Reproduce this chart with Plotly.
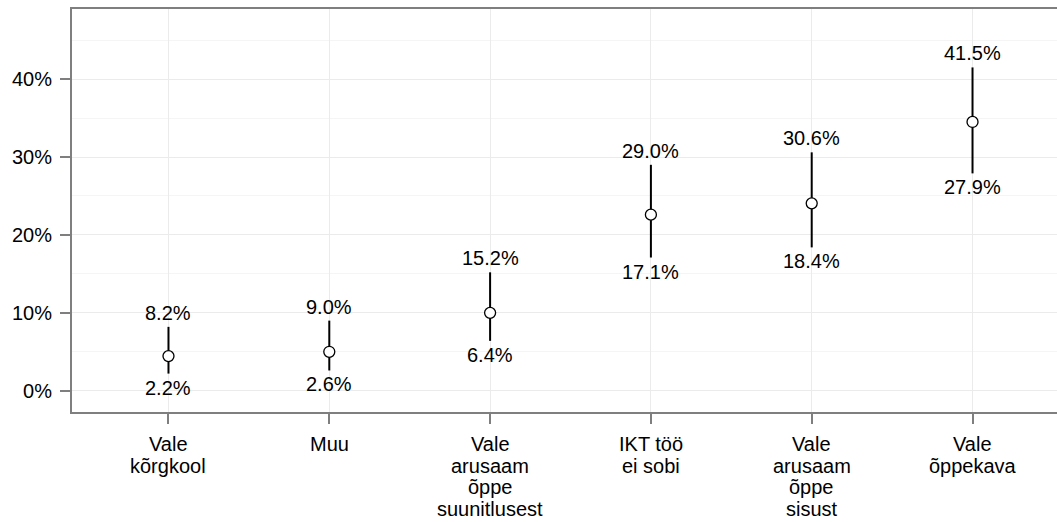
import plotly.graph_objects as go

categories = ["Vale<br>kõrgkool", "Muu", "Vale<br>arusaam<br>õppe<br>suunitlusest",
              "IKT töö<br>ei sobi", "Vale<br>arusaam<br>õppe<br>sisust", "Vale<br>õppekava"]
estimate = [4.45, 5.0, 10.0, 22.6, 24.05, 34.5]
lower = [2.2, 2.6, 6.4, 17.1, 18.4, 27.9]
upper = [8.2, 9.0, 15.2, 29.0, 30.6, 41.5]
y_ticks = [0, 10, 20, 30, 40]

xi = list(range(len(categories)))
FONT = "Liberation Sans, Arial, sans-serif"
FS = 20
GRID = "#ebebeb"
FRAME = "#7f7f7f"

fig = go.Figure()

# interval lines
lx, ly = [], []
for i, lo, hi in zip(xi, lower, upper):
    lx += [i, i, None]
    ly += [lo, hi, None]
fig.add_trace(go.Scatter(x=lx, y=ly, mode="lines",
                         line=dict(color="black", width=2),
                         hoverinfo="skip", showlegend=False))

# point estimates
fig.add_trace(go.Scatter(x=xi, y=estimate, mode="markers",
                         marker=dict(symbol="circle", size=11, color="white",
                                     line=dict(color="black", width=1.3)),
                         showlegend=False))

# value labels
for i, lo, hi in zip(xi, lower, upper):
    fig.add_annotation(x=i, y=hi, text=f"{hi:.1f}%", showarrow=False,
                       yanchor="bottom", yshift=1,
                       font=dict(family=FONT, size=FS, color="black"))
    fig.add_annotation(x=i, y=lo, text=f"{lo:.1f}%", showarrow=False,
                       yanchor="top", yshift=-1,
                       font=dict(family=FONT, size=FS, color="black"))

# category labels (tight line spacing like the reference)
LINE_H = 21.7
for i, cat in zip(xi, categories):
    for j, part in enumerate(cat.split("<br>")):
        fig.add_annotation(x=i, xref="x", y=0, yref="paper", text=part,
                           showarrow=False, yanchor="top",
                           yshift=-(19 + j * LINE_H),
                           font=dict(family=FONT, size=FS, color="black"))

fig.update_layout(
    width=1069, height=522,
    margin=dict(l=72, r=0, t=9, b=110),
    plot_bgcolor="white", paper_bgcolor="white",
    font=dict(family=FONT, size=FS, color="black"),
    xaxis=dict(
        range=[-0.6, 5.6], automargin=False,
        tickmode="array", tickvals=xi, ticktext=[""] * len(xi),
        showticklabels=False,
        showgrid=True, gridcolor=GRID, gridwidth=1,
        showline=True, linecolor=FRAME, linewidth=2, mirror=True,
        ticks="outside", ticklen=10, tickwidth=2, tickcolor=FRAME,
        zeroline=False,
    ),
    yaxis=dict(
        range=[-2.73, 49.0], automargin=False,
        tickmode="array", tickvals=y_ticks, ticktext=[f"{v}%" for v in y_ticks],
        showgrid=True, gridcolor=GRID, gridwidth=1,
        minor=dict(dtick=5, tick0=0, showgrid=True, gridcolor="#f5f5f5", gridwidth=1, ticks=""),
        showline=True, linecolor=FRAME, linewidth=2, mirror=True,
        ticks="outside", ticklen=10, tickwidth=2, tickcolor=FRAME,
        ticklabelstandoff=4,
        tickfont=dict(family=FONT, size=FS, color="black"),
        zeroline=False,
    ),
)

fig.write_html("out.html",
               config={"displayModeBar": False},
               post_script="document.documentElement.style.overflow='hidden';document.body.style.margin='0px';document.body.style.overflow='hidden';")
